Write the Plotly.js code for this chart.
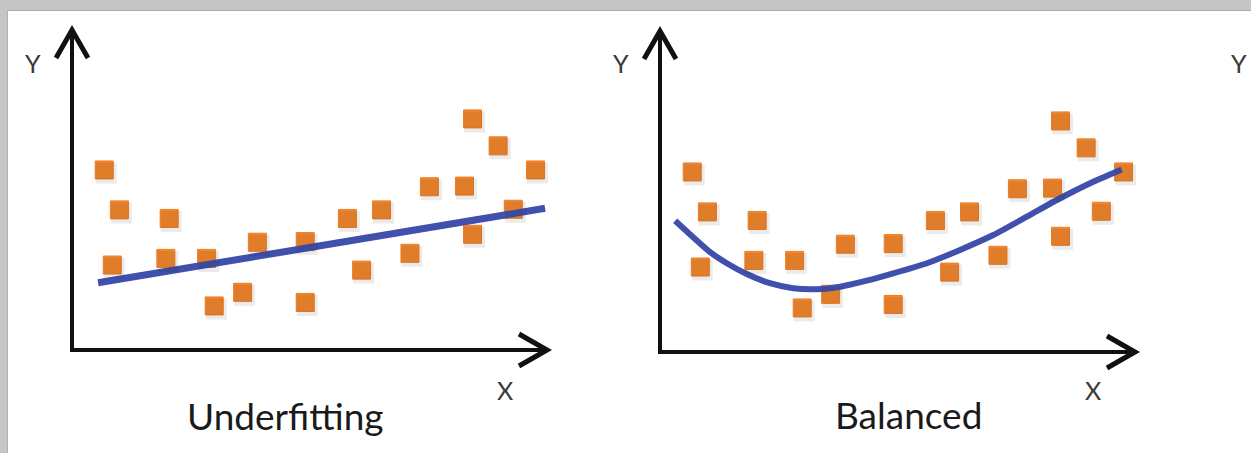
<!DOCTYPE html>
<html>
<head>
<meta charset="utf-8">
<script src="https://cdn.plot.ly/plotly-3.0.1.min.js"></script>
<style>
html,body{margin:0;padding:0;background:#fff;}
#chart{width:1251px;height:453px;}
</style>
</head>
<body>
<div id="chart"></div>
<script>
// ---- data (abstract units, 0..10 on each axis) ----
const pointsX = [0.68, 1.00, 0.85, 1.98, 2.05, 2.84, 3.00, 3.60, 3.91, 4.92, 4.92,
                 5.81, 6.11, 6.53, 7.13, 7.54, 8.28, 8.45, 8.45, 8.99, 9.31, 9.78];
const pointsY = [5.68, 4.42, 2.68, 2.89, 4.15, 2.89, 1.39, 1.82, 3.40, 3.42, 1.50,
                 4.15, 2.52, 4.42, 3.05, 5.15, 5.17, 3.65, 7.29, 6.44, 4.44, 5.68];

const underfitX = [0.55, 9.98];
const underfitY = [2.12, 4.47];

const balancedX = [0.32, 0.70, 1.05, 1.41, 1.83, 2.32, 2.81, 3.31, 3.80, 4.36, 4.92,
                   5.63, 6.33, 7.03, 7.74, 8.44, 9.14, 9.74];
const balancedY = [4.14, 3.62, 3.16, 2.80, 2.46, 2.17, 2.01, 1.98, 2.06, 2.25, 2.48,
                   2.80, 3.22, 3.69, 4.27, 4.85, 5.37, 5.76];

const panelTitles = ["Underfitting", "Balanced"];
const axisLetterX = "X";
const axisLetterY = "Y";

// ---- layout geometry ----
const W = 1251, H = 453;
const UX = 47.4, UY = 31.7;          // pixels per unit
const R0 = -1.2, R1 = 10.8;          // axis range (padding so arrows aren't clipped)
const origins = [[72, 350], [660, 352]];

function xdom(ox){ return [(ox + R0*UX)/W, (ox + R1*UX)/W]; }
function ydom(oy){ return [(H - (oy - R0*UY))/H, (H - (oy - R1*UY))/H]; }

const ORANGE = '#f4882f';
const BLUE = '#4050ac';

const traces = [];
const layout = {
  width: W, height: H,
  margin: {l:0, r:0, t:0, b:0},
  paper_bgcolor: '#ffffff',
  plot_bgcolor: 'rgba(0,0,0,0)',
  showlegend: false,
  shapes: [],
  annotations: []
};

function hiddenAxis(dom, anchor){
  return {domain: dom, range: [R0, R1], anchor: anchor, visible: false,
          showgrid: false, zeroline: false, fixedrange: true};
}

origins.forEach((o, i) => {
  const n = i + 1;
  const xa = 'x' + (n === 1 ? '' : n), ya = 'y' + (n === 1 ? '' : n);
  // shadow axes (offset by 2px right, 3px down)
  const sn = n + 2;
  const sxa = 'x' + sn, sya = 'y' + sn;
  layout['xaxis' + (n === 1 ? '' : n)] = hiddenAxis(xdom(o[0]), ya);
  layout['yaxis' + (n === 1 ? '' : n)] = hiddenAxis(ydom(o[1]), xa);
  layout['xaxis' + sn] = hiddenAxis(xdom(o[0] + 2), sya);
  layout['yaxis' + sn] = hiddenAxis(ydom(o[1] + 3), sxa);

  // soft shadow of squares
  traces.push({x: pointsX, y: pointsY, xaxis: sxa, yaxis: sya, type: 'scatter', mode: 'markers',
    marker: {symbol: 'square', size: 21, color: 'rgba(0,0,0,0.08)', line: {width: 0}},
    hoverinfo: 'skip'});
  // orange squares
  traces.push({x: pointsX, y: pointsY, xaxis: xa, yaxis: ya, type: 'scatter', mode: 'markers',
    marker: {symbol: 'square', size: 18, color: ORANGE, line: {color: '#ee7b24', width: 1}},
    hoverinfo: 'skip'});
  // fit line
  if (i === 0) {
    traces.push({x: underfitX, y: underfitY, xaxis: xa, yaxis: ya, type: 'scatter', mode: 'lines',
      line: {color: BLUE, width: 7}, hoverinfo: 'skip'});
  } else {
    traces.push({x: balancedX, y: balancedY, xaxis: xa, yaxis: ya, type: 'scatter', mode: 'lines',
      line: {color: BLUE, width: 6, shape: 'spline', smoothing: 0.6}, hoverinfo: 'skip'});
  }

  // axes with open arrowheads (tip pixel positions)
  const tipY = i ? 31 : 30, tipX = i ? 1135 : 547;
  const ty = (o[1] - tipY) / UY, tx = (tipX - o[0]) / UX;
  const wx = 16 / UX, wy = 28 / UY;           // vertical arrow wings
  const hx = 28 / UX, hy = 16 / UY;           // horizontal arrow wings
  layout.shapes.push({type: 'path', xref: xa, yref: ya,
    path: `M 0 ${ty - 0.1} L 0 0 L ${tx - 0.1} 0`,
    line: {color: '#111111', width: 4}});
  layout.shapes.push({type: 'path', xref: xa, yref: ya,
    path: `M ${-wx} ${ty - wy} L 0 ${ty} L ${wx} ${ty - wy}`,
    line: {color: '#111111', width: 5}});
  layout.shapes.push({type: 'path', xref: xa, yref: ya,
    path: `M ${tx - hx} ${hy} L ${tx} 0 L ${tx - hx} ${-hy}`,
    line: {color: '#111111', width: 5}});
});

// frame (gray band top and left)
layout.shapes.push({type: 'rect', xref: 'paper', yref: 'paper', x0: 0, x1: 1,
  y0: (H - 10) / H, y1: 1, fillcolor: '#c6c6c6', line: {width: 0}, layer: 'above'});
layout.shapes.push({type: 'rect', xref: 'paper', yref: 'paper', x0: 0, x1: 7 / W,
  y0: 0, y1: 1, fillcolor: '#c6c6c6', line: {width: 0}, layer: 'above'});
layout.shapes.push({type: 'line', xref: 'paper', yref: 'paper', x0: 7 / W, x1: 1,
  y0: (H - 10.5) / H, y1: (H - 10.5) / H, line: {color: '#a9a9a9', width: 1}, layer: 'above'});
layout.shapes.push({type: 'line', xref: 'paper', yref: 'paper', x0: 7.5 / W, x1: 7.5 / W,
  y0: 0, y1: (H - 10) / H, line: {color: '#b0b0b0', width: 1}, layer: 'above'});

// text
function ann(text, px, py, size, color){
  layout.annotations.push({text: text, xref: 'paper', yref: 'paper',
    x: px / W, y: (H - py) / H, xanchor: 'center', yanchor: 'middle', showarrow: false,
    font: {family: 'Lato, "Open Sans", sans-serif', size: size, color: color}});
}
ann(axisLetterY, 33, 63, 25, '#3a3a3a');
ann(axisLetterY, 621, 63, 25, '#3a3a3a');
ann(axisLetterY, 1239, 63, 25, '#3a3a3a');
ann(axisLetterX, 505, 390, 25, '#3a3a3a');
ann(axisLetterX, 1093, 390, 25, '#3a3a3a');
ann(panelTitles[0], 285, 415, 37, '#1a1a1a');
ann(panelTitles[1], 908, 414, 37, '#1a1a1a');

Plotly.newPlot('chart', traces, layout, {staticPlot: true, displayModeBar: false});
</script>
</body>
</html>
